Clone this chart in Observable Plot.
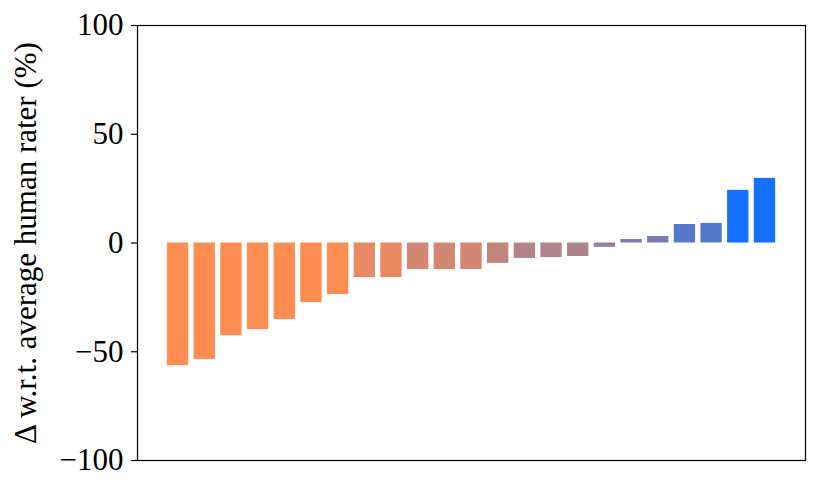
<!DOCTYPE html>
<html>
<head>
<meta charset="utf-8">
<script src="https://cdn.jsdelivr.net/npm/d3@7"></script>
<script src="https://cdn.jsdelivr.net/npm/@observablehq/plot@0.6"></script>
<style>
  html, body { margin: 0; padding: 0; background: #fff; }
  #chart svg { display: block; }
</style>
</head>
<body>
<div id="chart"></div>
<script>
const categories = d3.range(1, 24).map(i => `R${i}`);
const deltas = [-56.4, -53.6, -42.6, -39.8, -35.2, -27.4, -23.7, -15.9, -15.9, -12.2, -12.2, -12.2,
                -9.4, -7.1, -6.7, -6.2, -2.0, 1.6, 3.0, 8.5, 9.0, 24.2, 29.7];
const yTicks = [-100, -50, 0, 50, 100];

const data = categories.map((c, i) => ({cat: c, v: deltas[i]}));

const chart = Plot.plot({
  width: 820,
  height: 493,
  marginLeft: 137,
  marginRight: 15,
  marginTop: 25,
  marginBottom: 33,
  style: {fontFamily: "Liberation Serif", fontSize: "31px", color: "#000", background: "#fff"},
  x: {domain: categories, paddingInner: 0.2, paddingOuter: 1.12, round: false, axis: null},
  y: {domain: [-100, 100]},
  color: {type: "linear", domain: [-20, 20], range: ["#FF8C50", "#1570FF"], interpolate: "rgb", clamp: true},
  marks: [
    Plot.barY(data, {x: "cat", y: "v", fill: "v"}),
    Plot.frame({stroke: "#000", strokeWidth: 1.2}),
    Plot.axisY({ticks: yTicks, tickSize: 6, tickPadding: 8, tickFormat: d => (d < 0 ? "\u2212" + Math.abs(d) : String(d)),
      label: "\u0394 w.r.t. average human rater (%)", labelAnchor: "center", labelArrow: "none", labelOffset: 124,
      fontSize: 31, strokeWidth: 1.2})
  ]
});
document.getElementById("chart").appendChild(chart);
</script>
</body>
</html>
